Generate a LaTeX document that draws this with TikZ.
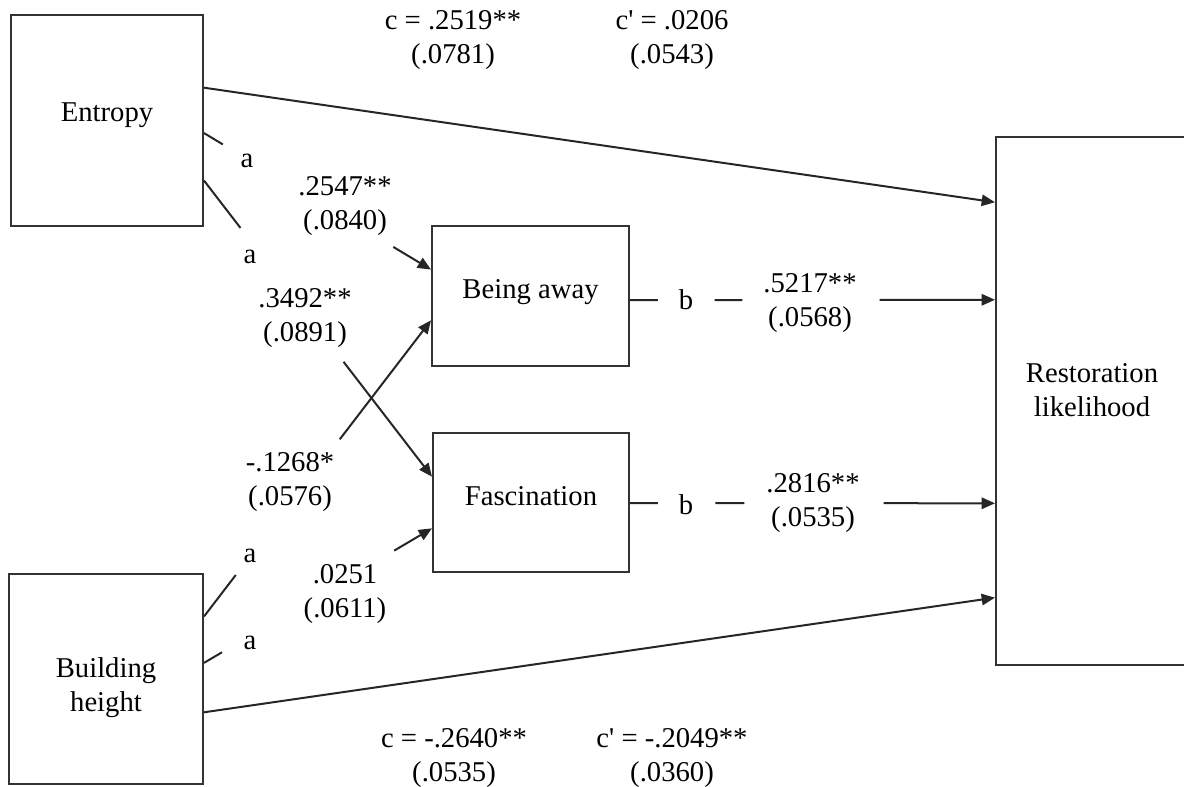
\documentclass[tikz,border=0pt]{standalone}
\usepackage{fontspec}
\setmainfont{Liberation Serif}
\usetikzlibrary{arrows.meta,calc}

\begin{document}
\begin{tikzpicture}[x=0.75pt,y=-0.75pt,
  every node/.style={font=\fontsize{21.5}{25.5}\selectfont, inner sep=0pt},
  varbox/.style={draw=black!80, line width=1.5pt, minimum width=#1*0.75pt},
  boxtext/.style={align=center, font=\fontsize{21.5}{25.5}\selectfont},
  path/.style={draw=black!85, line width=1.5pt},
  arr/.style={path, -{Triangle[length=10pt,width=8.5pt]}},
  coef/.style={align=center},
]
\useasboundingbox (0,0) rectangle (1184,786);
\clip (0,0) rectangle (1184,786);

% variables
\node[varbox=192, minimum height=211*0.75pt,
  label={[boxtext, yshift=3.75pt]center:Entropy}] (ent) at (107,120.5) {};
\node[varbox=194, minimum height=210*0.75pt,
  label={[boxtext, yshift=-6.5pt]center:Building\\height}] (bld) at (106,679) {};
\node[varbox=197, minimum height=140*0.75pt,
  label={[boxtext, yshift=3pt]center:Being away}] (away) at (530.5,296) {};
\node[varbox=196, minimum height=139*0.75pt,
  label={[boxtext, yshift=4.5pt]center:Fascination}] (fasc) at (531,502.5) {};
\node[varbox=200, minimum height=528*0.75pt,
  label={[boxtext, yshift=8.5pt, xshift=-3pt]center:Restoration\\likelihood}] (rest) at (1096,401) {};

% attachment points on the box edges
\coordinate (e1) at ($(ent.north east)!0.346!(ent.south east)$);
\coordinate (e2) at ($(ent.north east)!0.559!(ent.south east)$);
\coordinate (e3) at ($(ent.north east)!0.782!(ent.south east)$);
\coordinate (b1) at ($(bld.north east)!0.205!(bld.south east)$);
\coordinate (b2) at ($(bld.north east)!0.424!(bld.south east)$);
\coordinate (b3) at ($(bld.north east)!0.657!(bld.south east)$);
\coordinate (r1) at ($(rest.north west)!0.125!(rest.south west)$);
\coordinate (r2) at ($(rest.north west)!0.309!(rest.south west)$);
\coordinate (r3) at ($(rest.north west)!0.693!(rest.south west)$);
\coordinate (r4) at ($(rest.north west)!0.871!(rest.south west)$);
\coordinate (aw1) at ($(away.north west)!0.314!(away.south west)$);
\coordinate (aw2) at ($(away.north west)!0.671!(away.south west)$);
\coordinate (fa1) at ($(fasc.north west)!0.317!(fasc.south west)$);
\coordinate (fa2) at ($(fasc.north west)!0.683!(fasc.south west)$);
\coordinate (awo) at ($(away.north east)!0.529!(away.south east)$);
\coordinate (fao) at ($(fasc.north east)!0.504!(fasc.south east)$);

% direct paths c / c'
\draw[arr] (e1) -- (r1);
\draw[arr] (b3) -- (r4);

% a paths, broken around their labels
\path[path] (e2) -- ($(e2)!0.083!(aw1)$);
\draw[arr] ($(e2)!0.834!(aw1)$) -- (aw1);
\path[path] (e3) -- ($(e3)!0.16!(fa1)$);
\draw[arr] ($(e3)!0.612!(fa1)$) -- (fa1);
\path[path] (b1) -- ($(b1)!0.14!(aw2)$);
\draw[arr] ($(b1)!0.598!(aw2)$) -- (aw2);
\path[path] (b2) -- ($(b2)!0.079!(fa2)$);
\draw[arr] ($(b2)!0.834!(fa2)$) -- (fa2);

% b paths
\path[path] (awo) -- ($(awo)!0.076!(r2)$);
\path[path] ($(awo)!0.232!(r2)$) -- ($(awo)!0.308!(r2)$);
\draw[arr] ($(awo)!0.684!(r2)$) -- (r2);
\path[path] (fao) -- ($(fao)!0.076!(r3)$);
\path[path] ($(fao)!0.234!(r3)$) -- ($(fao)!0.313!(r3)$);
\draw[arr] ($(fao)!0.695!(r3)$) -- (r3);

% path labels
\node (la1) at (247,161) {a};
\node (la2) at (250,257) {a};
\node (la3) at (250,556) {a};
\node (la4) at (250,643) {a};
\node (lb1) at (686,300) {b};
\node (lb2) at (686,505) {b};

\node[coef] (k1) at (345,206) {.2547**\\(.0840)};
\node[coef] (k2) at (305,318) {.3492**\\(.0891)};
\node[coef] (k3) at (290,482) {-.1268*\\(.0576)};
\node[coef] (k4) at (345,594) {.0251\\(.0611)};
\node[coef] (k5) at (810,303) {.5217**\\(.0568)};
\node[coef] (k6) at (813,503) {.2816**\\(.0535)};

\node[coef] (ct) at (453,40) {c = .2519**\\(.0781)};
\node[coef] (cpt) at (672,40) {c\textquotesingle{} = .0206\\(.0543)};
\node[coef] (cb) at (454,758) {c = -.2640**\\(.0535)};
\node[coef] (cpb) at (672,758) {c\textquotesingle{} = -.2049**\\(.0360)};
\end{tikzpicture}
\end{document}
